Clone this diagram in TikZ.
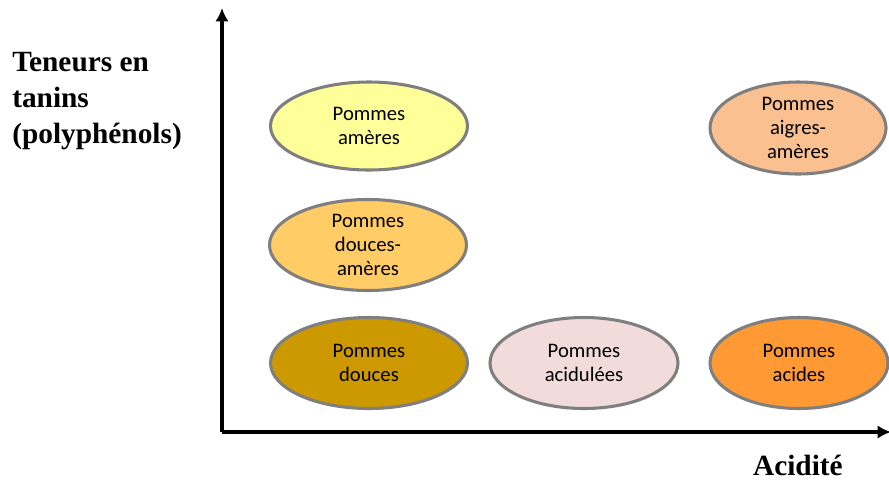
\documentclass[tikz,border=0pt]{standalone}
\usepackage{fontspec}
\setmainfont{Liberation Serif}
\newfontfamily\calib{Carlito}
\usetikzlibrary{arrows.meta,shapes,positioning}

\definecolor{jaunepale}{HTML}{FFFF99}
\definecolor{orangeclair}{HTML}{FFCC66}
\definecolor{ocre}{HTML}{CC9900}
\definecolor{rosepale}{HTML}{F2DCDB}
\definecolor{orangevif}{HTML}{FF9933}
\definecolor{peche}{HTML}{FAC090}
\definecolor{bord}{HTML}{7F7F7F}

\tikzset{
	pomme/.style={ellipse,draw=bord,line width=2.3pt,inner sep=0pt,
		minimum width=0.75*197,minimum height=0.75*88,align=center,
		font=\calib\fontsize{15.5}{18}\selectfont},
	axe/.style={-{Latex[length=10pt,width=10pt]},line width=2.3pt},
	etiquette/.style={font=\bfseries\fontsize{22}{27}\selectfont,align=left}
}

\begin{document}
\begin{tikzpicture}[x=0.75pt,y=-0.75pt]

	\useasboundingbox (0,0) rectangle (889,480);

	\coordinate (o) at (222,432);
	\coordinate (ytop) at (222,8);
	\coordinate (xend) at (891,432);
	\draw[axe] (o) -- (ytop);
	\draw[axe] (o) -- (xend);

	\node[etiquette,anchor=north west,inner sep=0pt] (teneurs) at (12,52) {Teneurs en\\tanins\\(polyphénols)};
	\node[etiquette,anchor=north east,inner sep=0pt] (acidite) at (843,455) {Acidité};

	\node[pomme,fill=jaunepale] (ameres) at (369,126) {Pommes\\amères};
	\node[pomme,fill=orangeclair,minimum height=0.75*91] (doucesam) at (368,245) {Pommes\\douces-\\amères};
	\node[pomme,fill=ocre,minimum height=0.75*91] (douces) at (369,363) {Pommes\\douces};
	\node[pomme,fill=rosepale,minimum width=0.75*188,minimum height=0.75*91] (acidulees) at (584,363) {Pommes\\acidulées};
	\node[pomme,fill=orangevif,minimum width=0.75*178,minimum height=0.75*91] (acides) at (799,363) {Pommes\\acides};
	\node[pomme,fill=peche,minimum width=0.75*176,minimum height=0.75*92] (aigres) at (798,128) {Pommes\\aigres-\\amères};

\end{tikzpicture}
\end{document}
